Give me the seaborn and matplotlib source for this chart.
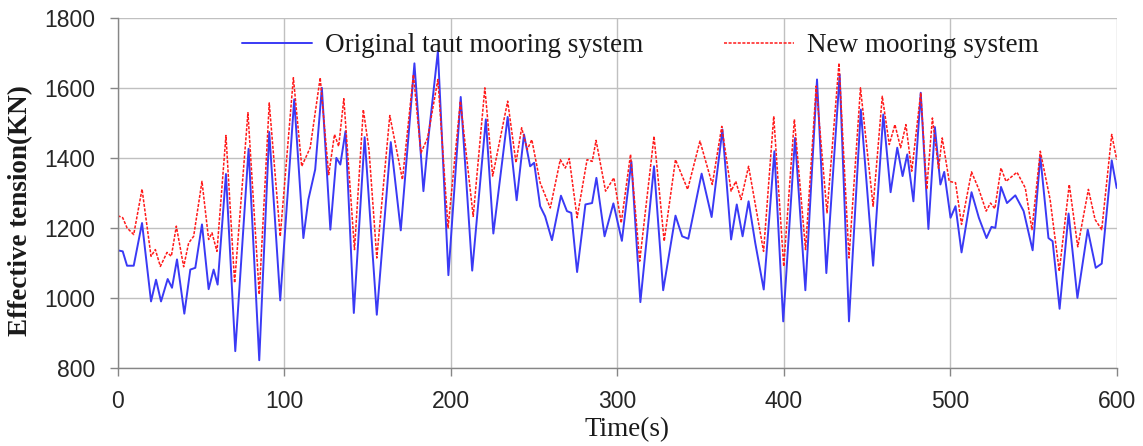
import matplotlib
matplotlib.use("Agg")
import matplotlib.pyplot as plt
import pandas as pd
import seaborn as sns

# Original taut mooring system (time in s, effective tension in KN)
t_taut = [0, 3, 5.6, 9.6, 14.6, 20, 23, 26, 30, 32.6,
          35.6, 40, 43.6, 46.6, 50.6, 54.6, 57.6, 60, 65, 70.6,
          78.6, 85, 91, 97.6, 106, 111.5, 114.5, 118.6, 122.6, 127.7,
          131.3, 133.7, 136.8, 141.8, 148.3, 155.6, 164, 170, 178.2, 183.6,
          186.7, 192.3, 198.6, 206, 212.9, 221.1, 225.6, 234.2, 239.6, 244,
          247.7, 250.1, 253.7, 256.7, 260.8, 266.2, 269.8, 272.4, 275.9, 280.9,
          284.9, 287.5, 292.4, 297.7, 302.8, 308.5, 313.9, 322.1, 327.6, 335,
          339, 342.7, 350.7, 356.7, 363.2, 368.4, 371.8, 375.3, 378.9, 382.9,
          388, 394.4, 399.7, 406.8, 413, 420, 425.6, 433.6, 439.2, 446.3,
          453.7, 459.8, 464.2, 468.2, 471.4, 474.2, 477.9, 482.3, 486.9, 490.8,
          494.1, 496.4, 500.2, 503.2, 506.8, 512.8, 517.2, 521.8, 524.8, 527.1,
          530.5, 534.1, 539.1, 544.1, 549.5, 554.1, 559, 561.5, 565.7, 571.1,
          576.4, 582.6, 587.4, 591, 597, 600]
f_taut = [1136, 1133, 1092, 1092, 1214, 990, 1052, 990, 1054, 1029,
          1110, 955, 1081, 1086, 1210, 1025, 1081, 1038, 1354, 848,
          1426, 822, 1474, 993, 1567, 1171, 1281, 1367, 1600, 1195,
          1400, 1381, 1476, 957, 1459, 952, 1445, 1193, 1670, 1305,
          1462, 1705, 1065, 1574, 1078, 1510, 1184, 1517, 1279, 1467,
          1376, 1386, 1262, 1233, 1165, 1292, 1248, 1243, 1074, 1267,
          1271, 1343, 1176, 1270, 1163, 1390, 988, 1376, 1022, 1235,
          1176, 1169, 1355, 1231, 1481, 1167, 1267, 1176, 1276, 1157,
          1024, 1419, 933, 1457, 1022, 1624, 1071, 1638, 933, 1538,
          1092, 1524, 1302, 1429, 1348, 1410, 1276, 1586, 1197, 1488,
          1324, 1360, 1229, 1262, 1130, 1302, 1229, 1171, 1203, 1200,
          1317, 1271, 1293, 1248, 1136, 1405, 1171, 1162, 969, 1241,
          1000, 1195, 1086, 1098, 1393, 1314]

# New mooring system
t_new = [0, 3, 5.6, 9.6, 14.6, 20, 22.6, 25.6, 29.6, 32.2,
         35.2, 39.6, 42.6, 45.6, 50.6, 54.6, 56.6, 59.6, 65, 70.2,
         78.2, 85, 91, 97.6, 105.5, 110.5, 115.6, 121.6, 126.7, 130.2,
         132.7, 135.8, 142.2, 147.5, 150.9, 155.6, 163.4, 171, 177.6, 182.1,
         186.1, 192.3, 198.4, 205.8, 213.5, 220.5, 225.2, 234.2, 239.2, 242.6,
         246, 248.7, 253.7, 259.8, 265.8, 268.8, 271.2, 275.9, 281.9, 285,
         287.3, 293, 298, 302.4, 308, 313.5, 322.1, 328.2, 335, 342.3,
         349.7, 357.1, 362.8, 368.4, 371.2, 374.4, 378.9, 387.9, 394, 400,
         406.4, 413.1, 419.5, 426, 433.2, 439.2, 446.1, 453.7, 459.2, 463.4,
         466.8, 470.2, 473.4, 476.9, 482.3, 485.9, 489.3, 493, 495.2, 499.4,
         503.2, 506.8, 512.8, 517.2, 521.6, 524.2, 526.8, 530.5, 533.5, 540.1,
         545.1, 549.1, 554.1, 560, 565.5, 571.5, 576.6, 583, 587, 591,
         597, 600]
f_new = [1235, 1229, 1200, 1181, 1311, 1119, 1138, 1090, 1130, 1119,
         1205, 1089, 1157, 1176, 1333, 1167, 1186, 1133, 1464, 1043,
         1529, 1010, 1557, 1176, 1629, 1376, 1429, 1629, 1352, 1467,
         1433, 1569, 1138, 1538, 1424, 1114, 1521, 1338, 1638, 1414,
         1457, 1624, 1200, 1562, 1233, 1600, 1348, 1562, 1386, 1486,
         1424, 1452, 1329, 1257, 1395, 1371, 1398, 1229, 1395, 1390,
         1450, 1305, 1343, 1214, 1410, 1105, 1462, 1162, 1395, 1310,
         1448, 1324, 1490, 1305, 1333, 1281, 1376, 1133, 1519, 1090,
         1510, 1138, 1605, 1243, 1671, 1114, 1600, 1262, 1576, 1438,
         1495, 1429, 1495, 1362, 1586, 1310, 1514, 1370, 1457, 1333,
         1329, 1210, 1360, 1310, 1248, 1271, 1255, 1371, 1333, 1359,
         1314, 1195, 1419, 1281, 1076, 1324, 1146, 1310, 1224, 1195,
         1467, 1395]

df_taut = pd.DataFrame({"time": t_taut, "tension": f_taut})
df_new = pd.DataFrame({"time": t_new, "tension": f_new})

sns.set_style("white")
serif = ["Liberation Serif", "DejaVu Serif"]

fig, ax = plt.subplots(figsize=(11.43, 4.46), dpi=100)
fig.subplots_adjust(left=0.103, right=0.977, top=0.960, bottom=0.175)

sns.lineplot(data=df_taut, x="time", y="tension", ax=ax, color="#3a3af5",
             linewidth=1.4, label="Original taut mooring system", sort=False,
             solid_joinstyle="round")
sns.lineplot(data=df_new, x="time", y="tension", ax=ax, color="#ff1a1a",
             linewidth=1.1, linestyle=(0, (2, 1)), label="New mooring system", sort=False)

ax.set_xlim(0, 600)
ax.set_ylim(800, 1800)
ax.set_xticks(range(0, 601, 100))
ax.set_yticks(range(800, 1801, 200))
ax.grid(True, color="#c0c0c0", linewidth=1.0)
ax.set_axisbelow(True)

for side in ["top", "right"]:
    ax.spines[side].set_visible(False)
for side in ["left", "bottom"]:
    ax.spines[side].set_color("#868686")
    ax.spines[side].set_linewidth(1.0)

ax.tick_params(axis="both", direction="out", length=6, width=1, color="#868686",
               labelsize=16.5, labelcolor="#262626", pad=10, left=True, bottom=True)
for lab in ax.get_xticklabels() + ax.get_yticklabels():
    lab.set_family(["Liberation Sans", "DejaVu Sans"])

ax.set_xlabel("Time(s)", fontsize=19.5, family=serif, color="#1a1a1a")
ax.set_ylabel("Effective tension(KN)", fontsize=19.5, family=serif, fontweight="bold",
              color="#1a1a1a")
ax.xaxis.set_label_coords(0.51, -0.14)
ax.yaxis.set_label_coords(-0.085, 0.45)

leg = ax.legend(loc="upper center", bbox_to_anchor=(0.523, 1.025), ncol=2, frameon=False,
                handlelength=2.6, columnspacing=3.0, handletextpad=0.45,
                prop={"family": serif, "size": 19.5})
for txt in leg.get_texts():
    txt.set_color("#1a1a1a")

fig.savefig("out.png", dpi=100)
